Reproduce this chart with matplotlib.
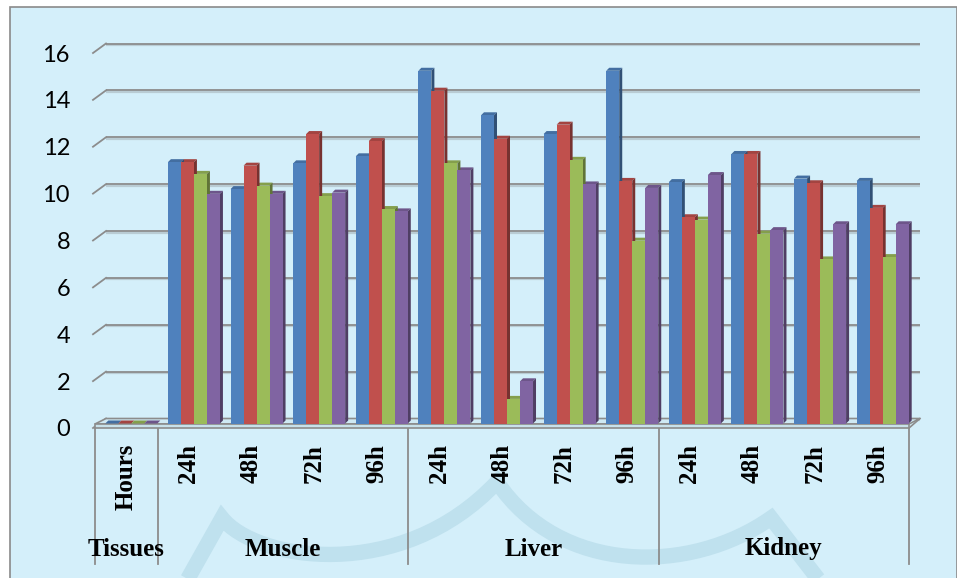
import matplotlib
matplotlib.use("Agg")
import matplotlib.pyplot as plt
from matplotlib.transforms import Affine2D, IdentityTransform, blended_transform_factory
from matplotlib.patches import Rectangle, PathPatch, Polygon
from matplotlib.path import Path
from matplotlib.lines import Line2D
from matplotlib.colors import to_rgb

# ---- data -------------------------------------------------------------
hours = ["Hours", "24h", "48h", "72h", "96h",
         "24h", "48h", "72h", "96h",
         "24h", "48h", "72h", "96h"]
tissues = ["Tissues", "Muscle", "Liver", "Kidney"]
tissue_spans = [1, 4, 4, 4]

series_1 = [0, 11.15, 10.0, 11.1, 11.4, 15.05, 13.15, 12.35, 15.05, 10.3, 11.5, 10.45, 10.35]
series_2 = [0, 11.15, 11.0, 12.35, 12.05, 14.2, 12.15, 12.75, 10.35, 8.8, 11.5, 10.25, 9.2]
series_3 = [0, 10.65, 10.15, 9.7, 9.15, 11.1, 1.05, 11.25, 7.8, 8.7, 8.1, 7.0, 7.1]
series_4 = [0, 9.8, 9.8, 9.85, 9.05, 10.8, 1.8, 10.2, 10.05, 10.6, 8.25, 8.5, 8.5]

y_ticks = [0, 2, 4, 6, 8, 10, 12, 14, 16]

# ---- styling ------------------------------------------------------------
W, H = 957, 578
BG = "#D4EFFA"
GRID = "#8C8C8C"
series_colors = ["#4F81BD", "#C0504D", "#9BBB59", "#8064A2"]


def shade(c, f):
    r, g, b = to_rgb(c)
    return (r * f, g * f, b * f)


def fx(px):
    return px / W


def fy(py):
    # py measured from the top edge
    return (H - py) / H


fig = plt.figure(figsize=(W / 100, H / 100), dpi=100)
fig.patch.set_facecolor("white")

# panel background with thin frame
fig.add_artist(Rectangle((fx(9.5), -0.02), fx(956.5) - fx(9.5), fy(6.5) + 0.02,
                         transform=fig.transFigure, facecolor=BG,
                         edgecolor="#8A8A8A", lw=1.2, zorder=-3))

# faint watermark band in the lower part of the panel
wm_verts = [(186, 582), (222, 518),
            (255, 560), (400, 585), (497, 482),
            (560, 575), (690, 575), (771, 518),
            (822, 584)]
wm_codes = [Path.MOVETO, Path.LINETO,
            Path.CURVE4, Path.CURVE4, Path.CURVE4,
            Path.CURVE4, Path.CURVE4, Path.CURVE4,
            Path.LINETO]
wm_path = Path([(fx(x), fy(y)) for x, y in wm_verts], wm_codes)
fig.add_artist(PathPatch(wm_path, transform=fig.transFigure, facecolor="none",
                         edgecolor="#BFE1EE", lw=11, joinstyle="miter",
                         capstyle="butt", zorder=-2))

# front plane of the plot: x from 95 px to 909 px, y from 428 px (0) to 53 px (16)
ax = fig.add_axes([fx(95), fy(428), fx(909) - fx(95), fy(53) - fy(428)])
ax.set_xlim(-0.5, len(hours) - 0.5)
ax.set_ylim(0, 16)
ax.axis("off")
ax.patch.set_visible(False)

back = ax.transData + Affine2D().translate(11, 9.5)     # back wall
mid = ax.transData + Affine2D().translate(5, 4.5)       # bar plane

# back-wall gridlines with a soft shadow
for v in y_ticks:
    ax.plot([-0.5, len(hours) - 0.5], [v, v], color="#B9CCD4", lw=1.6,
            transform=back + Affine2D().translate(0, -1.5), zorder=1,
            clip_on=False, solid_capstyle="butt")
    ax.plot([-0.5, len(hours) - 0.5], [v, v], color=GRID, lw=1.3,
            transform=back, zorder=1.1, clip_on=False, solid_capstyle="butt")

# side wall edges (diagonal ticks) and y labels
fig.canvas.draw()
for v in y_ticks:
    px, py = ax.transData.transform((-0.5, v))
    ax.add_line(Line2D([px - 2, px + 11], [py, py + 9.5], color=GRID, lw=1.3,
                       transform=IdentityTransform(), zorder=1.1, clip_on=False))
    ax.text(fx(70), v, str(v), transform=blended_transform_factory(fig.transFigure, ax.transData),
            ha="right", va="center_baseline", fontsize=17, family="Lato", color="black")

# floor slab
p0 = ax.transData.transform((-0.5, 0))
p1 = ax.transData.transform((len(hours) - 0.5, 0))
floor_top = Polygon([(p0[0], p0[1] + 4), (p0[0] + 11, p0[1] + 9.5),
                     (p1[0] + 11, p1[1] + 9.5), (p1[0], p1[1] + 4)],
                    closed=True, transform=IdentityTransform(), facecolor="#CFE9F3",
                    edgecolor=GRID, lw=1.2, zorder=1.2, clip_on=False)
ax.add_patch(floor_top)
ax.add_patch(Rectangle((p0[0], p0[1]), p1[0] - p0[0], 4, transform=IdentityTransform(),
                       facecolor="#C8E1EA", edgecolor=GRID, lw=1.2, zorder=1.2, clip_on=False))
ax.add_line(Line2D([p1[0], p1[0] + 11], [p1[1], p1[1] + 9.5], color=GRID, lw=1.2,
                   transform=IdentityTransform(), zorder=1.2, clip_on=False))

# 3-D looking clustered columns: depth of 3 px expressed in data units
ox, oy = ax.transData.transform((0, 0))
ux, uy = ax.transData.transform((1, 1))
depth_x = 3.0 / (ux - ox)
depth_y = 3.0 / (uy - oy)

bar_w = 0.2077
series_all = [series_1, series_2, series_3, series_4]
xs = list(range(len(hours)))
for j, (vals, col) in enumerate(zip(series_all, series_colors)):
    pos = [x + (j - 1.5) * bar_w for x in xs]
    for x, v in zip(pos, vals):
        x0, x1 = x - bar_w / 2, x + bar_w / 2
        ax.add_patch(Polygon([(x0, v), (x1, v), (x1 + depth_x, v + depth_y),
                              (x0 + depth_x, v + depth_y)], closed=True,
                             facecolor=shade(col, 0.85), lw=0, transform=mid,
                             zorder=2, clip_on=False))
        ax.add_patch(Polygon([(x1, 0), (x1 + depth_x, depth_y),
                              (x1 + depth_x, v + depth_y), (x1, v)], closed=True,
                             facecolor=shade(col, 0.62), lw=0, transform=mid,
                             zorder=2.1, clip_on=False))
for j, (vals, col) in enumerate(zip(series_all, series_colors)):
    pos = [x + (j - 1.5) * bar_w for x in xs]
    ax.bar(pos, vals, width=bar_w, color=col, lw=0, transform=mid, zorder=3,
           clip_on=False)

# category labels, group labels and divider lines below the floor
xfig = blended_transform_factory(ax.transData, fig.transFigure)
for i, lab in enumerate(hours):
    ax.text(i, fy(444), lab, transform=xfig, rotation=90, ha="center", va="top",
            fontsize=18, fontweight="bold", family="Liberation Serif", color="black")

start = -0.5
bounds = [start]
for name, span in zip(tissues, tissue_spans):
    centre = start + span / 2
    ax.text(centre, fy(549), name, transform=xfig, ha="center", va="center",
            fontsize=18, fontweight="bold", family="Liberation Serif", color="black")
    start += span
    bounds.append(start)
for b in bounds:
    ax.add_line(Line2D([b, b], [fy(428), fy(564)], transform=xfig, color=GRID,
                       lw=1.3, clip_on=False, zorder=1))

fig.savefig("out.png", dpi=100, facecolor=fig.get_facecolor())
